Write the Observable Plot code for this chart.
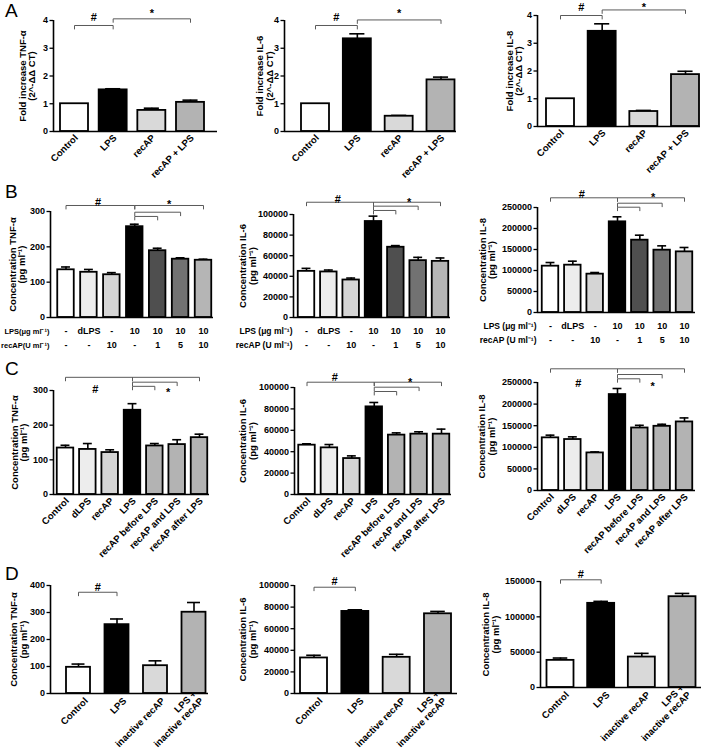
<!DOCTYPE html>
<html><head><meta charset="utf-8">
<script src="https://cdn.jsdelivr.net/npm/d3@7"></script>
<script src="https://cdn.jsdelivr.net/npm/@observablehq/plot@0.6"></script>
<style>
body{margin:0;background:white;}
#fig{position:relative;width:708px;height:751px;background:white;overflow:hidden;font-family:"Liberation Sans",Arial,sans-serif;}
.lett{position:absolute;left:5px;font-size:19px;line-height:19px;font-family:"Liberation Sans",Arial,sans-serif;}
</style></head>
<body><div id="fig">
<div class="lett" style="top:1px">A</div>
<div class="lett" style="top:182px">B</div>
<div class="lett" style="top:359px">C</div>
<div class="lett" style="top:564px">D</div>
</div>
<script>
// ---------- DATA ----------
// Row A: fold increase (2^-ΔΔCT)
const groupsA = ["Control", "LPS", "recAP", "recAP + LPS"];
const foldTNF = [1.0, 1.50, 0.76, 1.05];
const foldTNFErr = [0, 0.04, 0.08, 0.08];
const foldIL6 = [1.0, 3.34, 0.55, 1.86];
const foldIL6Err = [0, 0.18, 0.03, 0.10];
const foldIL8 = [1.0, 3.43, 0.54, 1.87];
const foldIL8Err = [0, 0.27, 0.04, 0.12];
const ticksFold = [0, 1, 2, 3, 4];

// Row B: dose response
const lpsRow = ["-", "dLPS", "-", "10", "10", "10", "10"];
const recapRow = ["-", "-", "10", "-", "1", "5", "10"];
const doseTNF = [135, 128, 121, 257, 189, 165, 162];
const doseTNFErr = [8, 8, 6, 7, 7, 4, 3];
const doseIL6 = [44800, 44200, 36400, 93200, 68200, 55200, 54500];
const doseIL6Err = [2900, 1900, 1900, 5200, 1600, 3200, 3300];
const doseIL8 = [110300, 112700, 91300, 215900, 172200, 148400, 144400];
const doseIL8Err = [8700, 9500, 3900, 11900, 11900, 10300, 10400];

// Row C: timing
const groupsC = ["Control", "dLPS", "recAP", "LPS", "recAP before LPS", "recAP and LPS", "recAP after LPS"];
const timeTNF = [134, 130, 121, 243, 140, 144, 164];
const timeTNFErr = [8, 17, 8, 19, 7, 14, 10];
const timeIL6 = [46100, 43600, 33600, 81900, 55500, 56400, 56400];
const timeIL6Err = [1300, 3100, 2500, 4100, 2100, 2200, 4700];
const timeIL8 = [121900, 118000, 87000, 222100, 144700, 148600, 158700];
const timeIL8Err = [6200, 6200, 2300, 14000, 6200, 4700, 9300];

// Row D: inactive recAP
const groupsD = ["Control", "LPS", "inactive recAP", "LPS +\ninactive recAP"];
const inactTNF = [97, 255, 103, 301];
const inactTNFErr = [12, 21, 18, 36];
const inactIL6 = [32900, 76000, 33500, 73800];
const inactIL6Err = [2500, 1500, 2800, 2200];
const inactIL8 = [38400, 119100, 43100, 128500];
const inactIL8Err = [3300, 2800, 5200, 4600];

const ticks300 = [0, 100, 200, 300];
const ticks400 = [0, 100, 200, 300, 400];
const ticksIL6 = [0, 20000, 40000, 60000, 80000, 100000];
const ticksIL8 = [0, 50000, 100000, 150000, 200000, 250000];
const ticksIL8D = [0, 50000, 100000, 150000];

// significance brackets: [from group, to group, level]; symbols: [x, level, text]
const brA1 = [[0, 1, 3.82], [1, 3, 4.06]];
const sgA1 = [[0.5, 4.10, "#"], [2, 4.24, "*"]];
const brA2 = [[0, 1, 3.82], [1, 3, 4.02]];
const sgA2 = [[0.5, 4.10, "#"], [2, 4.24, "*"]];
const brA3 = [[0, 1, 4.0], [1, 3, 4.20]];
const sgA3 = [[0.5, 4.28, "#"], [2, 4.30, "*"]];
const brB1 = [[0, 3, 317], [3, 6, 317], [3, 5, 298], [3, 4, 286]];
const sgB1 = [[1.4, 325, "#"], [4.5, 320, "*"]];
const brB2 = [[0, 3, 111900], [3, 6, 111900], [3, 5, 108100], [3, 4, 103900]];
const sgB2 = [[1.4, 114500, "#"], [4.6, 112000, "*"]];
const brB3 = [[0, 3, 273100], [3, 6, 273100], [3, 5, 260200], [3, 4, 250700]];
const sgB3 = [[1.4, 282000, "#"], [4.6, 273000, "*"]];
const brC1 = [[0, 3, 338], [3, 6, 338], [3, 5, 324], [3, 4, 312]];
const sgC1 = [[1.34, 302, "#"], [4.6, 294, "*"]];
const brC2 = [[0, 3, 104950], [3, 6, 104950], [3, 5, 100280], [3, 4, 96260]];
const sgC2 = [[1.24, 109000, "#"], [4.6, 105000, "*"]];
const brC3 = [[0, 3, 281700], [3, 6, 281700], [3, 5, 268500], [3, 4, 258600]];
const sgC3 = [[1.25, 247000, "#"], [4.57, 241000, "*"]];
const brD1 = [[0, 1, 375]];
const sgD1 = [[0.5, 392, "#"]];
const brD2 = [[0, 1, 98400]];
const sgD2 = [[0.5, 103500, "#"]];
const brD3 = [[0, 1, 152400]];
const sgD3 = [[0.5, 159500, "#"]];

// ---------- STYLE ----------
const fillA = ["white", "black", "#d9d9d9", "#b3b3b3"];
const fillB = ["white", "#ededed", "#d5d5d5", "black", "#4f4f4f", "#727272", "#b5b5b5"];
const fillC = ["white", "#ededed", "#d5d5d5", "black", "#b3b3b3", "#b3b3b3", "#b3b3b3"];
const FONT = "'Liberation Sans', Arial, sans-serif";

function panel(lay, cfg) {
  const {L, R, T, B, c0, cN, bw, ldx, tdx = 4, tdy = 7} = lay;
  const {values, errors, fills, ticks, brackets, sigs, ylabel, labels, rows, rowHead, rowSize} = cfg;
  const ymax = ticks[ticks.length - 1];
  const n = values.length;
  const s = (cN - c0) / (n - 1);
  const xdom = [(L - c0) / s, (n - 1) + (R - cN) / s];
  const hw = bw / 2 / s;
  const cap = bw * 0.27 / s;
  const perPx = ymax / (B - T);
  const idx = d3.range(n);
  const bars = idx.map(i => ({i, v: values[i], e: errors[i], f: fills[i]}));
  const errBars = bars.filter(d => d.e > 0);
  const t = 3.5 * perPx;
  const bpts = brackets.flatMap((b, k) => [
    {k, x: b[0], y: b[2] - t}, {k, x: b[0], y: b[2]}, {k, x: b[1], y: b[2]}, {k, x: b[1], y: b[2] - t}
  ]);
  const marks = [
    Plot.ruleX(errBars, {x: "i", y1: "v", y2: d => d.v + d.e, strokeWidth: 1.6}),
    Plot.ruleY(errBars, {y: d => d.v + d.e, x1: d => d.i - cap, x2: d => d.i + cap, strokeWidth: 1.6}),
    Plot.rect(bars, {x1: d => d.i - hw, x2: d => d.i + hw, y1: () => 0, y2: "v", fill: "f", stroke: "black", strokeWidth: 1.8}),
    Plot.ruleY([0], {strokeWidth: 1.6}),
    Plot.ruleX([xdom[0]], {y1: () => 0, y2: () => ymax, strokeWidth: 1.6}),
    Plot.axisY({ticks, tickFormat: d => String(d), tickSize: 3.5, tickPadding: 2, fontSize: 9, fontWeight: "bold", label: null, strokeWidth: 1.3}),
    Plot.line(bpts, {x: "x", y: "y", z: "k", stroke: "#5a5a5a", strokeWidth: 1}),
    Plot.text(sigs, {x: d => d[0], y: d => d[1], text: d => d[2], fontSize: 11, fontWeight: "bold"}),
    Plot.text([ylabel], {text: d => d, frameAnchor: "left", textAnchor: "middle", rotate: -90, dx: ldx, fontSize: 9.5, fontWeight: "bold", lineHeight: 1.0})
  ];
  if (labels) {
    marks.push(Plot.text(idx, {x: d => d, text: i => labels[i], frameAnchor: "bottom", rotate: -45, textAnchor: "end", dx: tdx, dy: tdy, fontSize: 9.5, fontWeight: "bold", lineHeight: 1.05}));
  }
  if (rows) {
    marks.push(Plot.text(idx, {x: d => d, text: i => rows[0][i] + "\n" + rows[1][i], frameAnchor: "bottom", lineAnchor: "top", dy: 5.5, lineHeight: 1.65, fontSize: 9, fontWeight: "bold"}));
    marks.push(Plot.text([rowHead], {text: d => d, frameAnchor: "bottom-left", textAnchor: "end", lineAnchor: "top", dx: -1, dy: 5.5, lineHeight: 1.65 * 9 / rowSize, fontSize: rowSize, fontWeight: "bold"}));
  }
  return Plot.plot({
    width: 708, height: 751,
    marginLeft: L, marginRight: 708 - R, marginTop: T, marginBottom: 751 - B,
    x: {domain: xdom, axis: null},
    y: {domain: [0, ymax], axis: null},
    color: {type: "identity"},
    style: {background: "transparent", fontFamily: FONT, overflow: "visible", position: "absolute", left: "0px", top: "0px"},
    marks
  });
}

const fig = document.getElementById("fig");
const labA = t => `Fold increase ${t}\n(2^-ΔΔ CT)`;
const labC = t => `Concentration ${t}\n(pg ml⁻¹)`;

const panels = [
  [{L: 53, R: 217, T: 20, B: 131, c0: 74, cN: 190, bw: 28, ldx: -26},
   {values: foldTNF, errors: foldTNFErr, fills: fillA, ticks: ticksFold, brackets: brA1, sigs: sgA1, ylabel: labA("TNF-α"), labels: groupsA}],
  [{L: 284, R: 456, T: 20, B: 131, c0: 315, cN: 440.5, bw: 28, ldx: -19.5},
   {values: foldIL6, errors: foldIL6Err, fills: fillA, ticks: ticksFold, brackets: brA2, sigs: sgA2, ylabel: labA("IL-6"), labels: groupsA}],
  [{L: 537, R: 700, T: 15, B: 126, c0: 560, cN: 685, bw: 28, ldx: -23},
   {values: foldIL8, errors: foldIL8Err, fills: fillA, ticks: ticksFold, brackets: brA3, sigs: sgA3, ylabel: labA("IL-8"), labels: groupsA}],
  [{L: 50, R: 213, T: 211, B: 317, c0: 65.5, cN: 203, bw: 16.5, ldx: -33},
   {values: doseTNF, errors: doseTNFErr, fills: fillB, ticks: ticks300, brackets: brB1, sigs: sgB1, ylabel: labC("TNF-α"), rows: [lpsRow, recapRow], rowHead: "LPS(μg ml⁻¹)\nrecAP(U ml⁻¹)", rowSize: 7.5}],
  [{L: 293, R: 450, T: 214, B: 317, c0: 306, cN: 440, bw: 16.5, ldx: -45.5},
   {values: doseIL6, errors: doseIL6Err, fills: fillB, ticks: ticksIL6, brackets: brB2, sigs: sgB2, ylabel: labC("IL-6"), rows: [lpsRow, recapRow], rowHead: "LPS (μg ml⁻¹)\nrecAP (U ml⁻¹)", rowSize: 8.5}],
  [{L: 537, R: 695, T: 207, B: 312, c0: 550, cN: 684, bw: 16.5, ldx: -50},
   {values: doseIL8, errors: doseIL8Err, fills: fillB, ticks: ticksIL8, brackets: brB3, sigs: sgB3, ylabel: labC("IL-8"), rows: [lpsRow, recapRow], rowHead: "LPS (μg ml⁻¹)\nrecAP (U ml⁻¹)", rowSize: 8.5}],
  [{L: 53, R: 209, T: 390, B: 494, c0: 65, cN: 199, bw: 16.5, ldx: -34},
   {values: timeTNF, errors: timeTNFErr, fills: fillC, ticks: ticks300, brackets: brC1, sigs: sgC1, ylabel: labC("TNF-α"), labels: groupsC}],
  [{L: 294, R: 451, T: 387, B: 494, c0: 306.5, cN: 441, bw: 16.5, ldx: -46.5},
   {values: timeIL6, errors: timeIL6Err, fills: fillC, ticks: ticksIL6, brackets: brC2, sigs: sgC2, ylabel: labC("IL-6"), labels: groupsC}],
  [{L: 537, R: 695, T: 382, B: 490, c0: 550, cN: 684, bw: 16.5, ldx: -50.5},
   {values: timeIL8, errors: timeIL8Err, fills: fillC, ticks: ticksIL8, brackets: brC3, sigs: sgC3, ylabel: labC("IL-8"), labels: groupsC}],
  [{L: 50, R: 208, T: 585, B: 693, c0: 78, cN: 193.5, bw: 24, ldx: -31.5, tdx: 10, tdy: 8},
   {values: inactTNF, errors: inactTNFErr, fills: fillA, ticks: ticks400, brackets: brD1, sigs: sgD1, ylabel: labC("TNF-α"), labels: groupsD}],
  [{L: 294, R: 457, T: 585, B: 693, c0: 313.5, cN: 437.5, bw: 27, ldx: -46.5, tdx: 9, tdy: 8},
   {values: inactIL6, errors: inactIL6Err, fills: fillA, ticks: ticksIL6, brackets: brD2, sigs: sgD2, ylabel: labC("IL-6"), labels: groupsD}],
  [{L: 540, R: 701, T: 581, B: 687, c0: 560, cN: 682, bw: 27, ldx: -49.5, tdx: 9, tdy: 8},
   {values: inactIL8, errors: inactIL8Err, fills: fillA, ticks: ticksIL8D, brackets: brD3, sigs: sgD3, ylabel: labC("IL-8"), labels: groupsD}]
];
for (const [lay, cfg] of panels) fig.appendChild(panel(lay, cfg));
</script>
</body></html>
